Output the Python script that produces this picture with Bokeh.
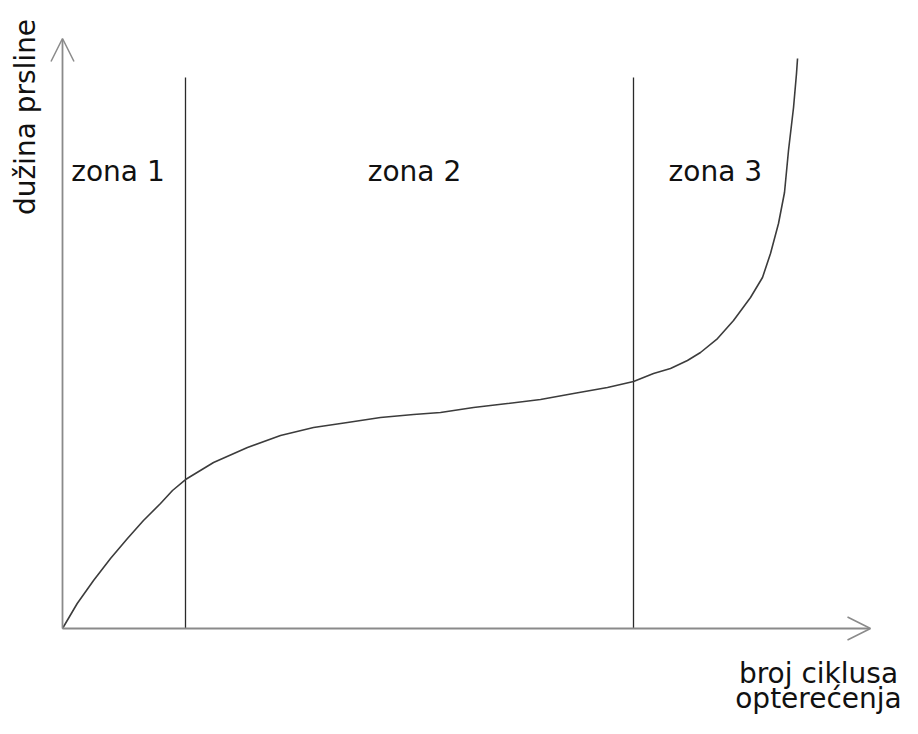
from bokeh.plotting import figure
from bokeh.models import Range1d, Arrow, OpenHead, Label
from bokeh.embed import file_html
from bokeh.resources import INLINE

# crack length curve (x: number of load cycles, y: crack length), arbitrary units
cycles = [0, 1.84, 3.88, 6.0, 8.12, 10.12, 12.25, 13.75, 15.38, 18.88, 23.12, 27.25,
          31.38, 35.62, 39.75, 43.88, 47.25, 51.38, 55.62, 59.75, 63.88, 68.12, 71.38,
          73.88, 76.0, 78.12, 79.75, 81.88, 83.88, 86.0, 87.5, 88.5, 89.5,
          90.25, 90.75, 91.38, 91.75, 91.88]
crack = [0, 4.17, 8.0, 11.67, 15.0, 18.0, 20.83, 23.0, 24.83, 27.67, 30.17, 32.17,
         33.5, 34.33, 35.17, 35.67, 36.0, 36.83, 37.5, 38.17, 39.17, 40.17, 41.17,
         42.5, 43.33, 44.67, 46.0, 48.33, 51.33, 55.17, 58.5, 62.5, 67.5,
         72.67, 79.67, 86.83, 92.5, 95.0]

zone_bounds = [15.375, 71.375]
zone_top = 91.83
zone_labels = ["zona 1", "zona 2", "zona 3"]
zone_label_x = [6.94, 44.0, 81.6]
zone_label_y = 76.17

x_axis_end = 101.0
y_axis_end = 98.33

y_title = "dužina prsline"
x_title_lines = ["broj ciklusa", "opterećenja"]
x_title_y = [-7.5, -11.67]

W, H = 902, 718
p = figure(width=W, height=H, output_backend="svg", toolbar_location=None,
           x_axis_type=None, y_axis_type=None, min_border=0,
           x_range=Range1d(-7.75, -7.75 + W / 8.0),
           y_range=Range1d(104.667 - H / 6.0, 104.667))
p.grid.visible = False
p.outline_line_color = None
p.background_fill_color = "white"

axis_col = "#8a8a8a"
p.add_layout(Arrow(end=OpenHead(size=23, line_color=axis_col, line_width=1.5),
                   x_start=0, y_start=0, x_end=x_axis_end, y_end=0,
                   line_color=axis_col, line_width=1.8))
p.add_layout(Arrow(end=OpenHead(size=23, line_color=axis_col, line_width=1.5),
                   x_start=0, y_start=0, x_end=0, y_end=y_axis_end,
                   line_color=axis_col, line_width=1.8))

p.segment(x0=zone_bounds, y0=[0, 0], x1=zone_bounds, y1=[zone_top, zone_top],
          line_color="#2a2a2a", line_width=1.3)

p.line(cycles, crack, line_color="#3c3c3c", line_width=1.6, line_join="round")

font = "DejaVu Sans"
for t, x in zip(zone_labels, zone_label_x):
    p.add_layout(Label(x=x, y=zone_label_y, text=t, text_align="center",
                       text_baseline="alphabetic", text_font=font,
                       text_font_size="28px", text_color="#111111"))

p.add_layout(Label(x=-4.6, y=85.25, text=y_title, angle=1.5707963,
                   text_align="center", text_baseline="alphabetic",
                   text_font=font, text_font_size="28px", text_color="#111111"))

for t, yy in zip(x_title_lines, x_title_y):
    p.add_layout(Label(x=94.5, y=yy, text=t, text_align="center",
                       text_baseline="alphabetic", text_font=font,
                       text_font_size="28px", text_color="#111111"))

open("out.html", "w").write(file_html(p, INLINE))
